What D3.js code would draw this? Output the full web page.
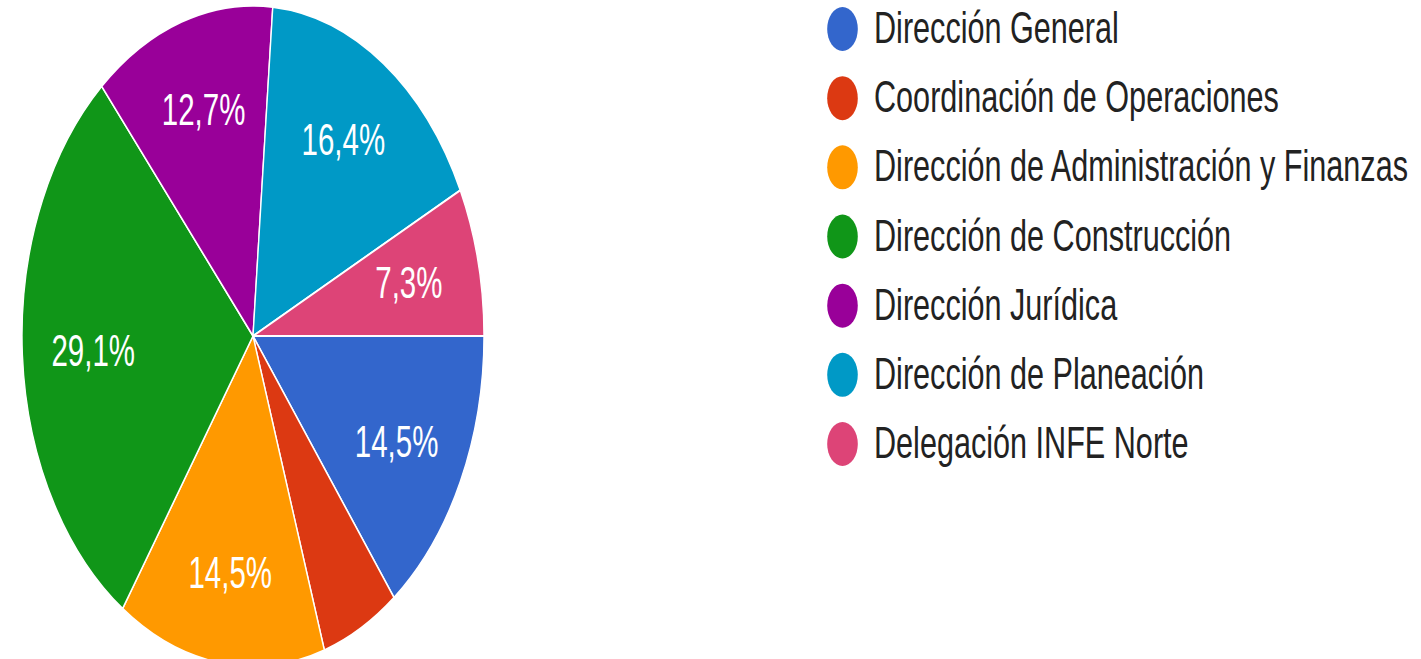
<!DOCTYPE html>
<html>
<head>
<meta charset="utf-8">
<script src="https://cdn.jsdelivr.net/npm/d3@7"></script>
<style>
  html, body { margin: 0; padding: 0; background: #ffffff; }
  svg { display: block; }
  text { font-family: "Liberation Sans", Arial, sans-serif; }
</style>
</head>
<body>
<svg id="chart" width="1421" height="659"></svg>
<script>
const categories = [
  "Dirección General",
  "Coordinación de Operaciones",
  "Dirección de Administración y Finanzas",
  "Dirección de Construcción",
  "Dirección Jurídica",
  "Dirección de Planeación",
  "Delegación INFE Norte"
];
const values = [8, 3, 8, 16, 7, 9, 4];
const colors = ["#3366cc", "#dc3912", "#ff9900", "#109618", "#990099", "#0099c6", "#dd4477"];

const W = 1421, H = 659;
const svg = d3.select("#chart");

const stretch = 1.43;       // vertical stretch of the picture
const cx = 253, cy = 336;
const R = 231;

const total = d3.sum(values);
const pie = d3.pie().sort(null).value(d => d)
  .startAngle(Math.PI / 2).endAngle(Math.PI / 2 + 2 * Math.PI);
const arcs = pie(values);
const arc = d3.arc().innerRadius(0).outerRadius(R);

const g = svg.append("g").attr("transform", `translate(${cx},${cy}) scale(1,${stretch})`);
g.selectAll("path").data(arcs).enter().append("path")
  .attr("d", arc)
  .attr("fill", (d, i) => colors[i])
  .attr("stroke", "#ffffff")
  .attr("stroke-width", 1.4);

const fmt = v => (Math.round(v * 1000) / 10).toFixed(1).replace(".", ",") + "%";
const labelArc = d3.arc().innerRadius(160).outerRadius(160);
const labelStretch = 1.49;
svg.append("g").selectAll("text").data(arcs.filter(d => d.value / total >= 0.06)).enter()
  .append("text")
  .attr("transform", d => {
    const c = labelArc.centroid(d);
    return `translate(${cx + c[0]},${cy + c[1] * labelStretch + 16}) scale(1,1.5)`;
  })
  .attr("text-anchor", "middle")
  .attr("font-size", 29.5)
  .attr("fill", "#ffffff")
  .text(d => fmt(d.value / total));

// Legend
const legY = d3.scalePoint().domain(categories).range([29, 444]);
const leg = svg.append("g");
const items = leg.selectAll("g").data(categories).enter().append("g")
  .attr("transform", d => `translate(842.5,${legY(d)})`);
items.append("ellipse")
  .attr("rx", 15.3).attr("ry", 22)
  .attr("fill", (d, i) => colors[i]);
items.append("text")
  .attr("transform", `translate(31.5,14) scale(1,${stretch})`)
  .attr("font-size", 30.6)
  .attr("fill", "#222222")
  .text(d => d);
</script>
</body>
</html>
